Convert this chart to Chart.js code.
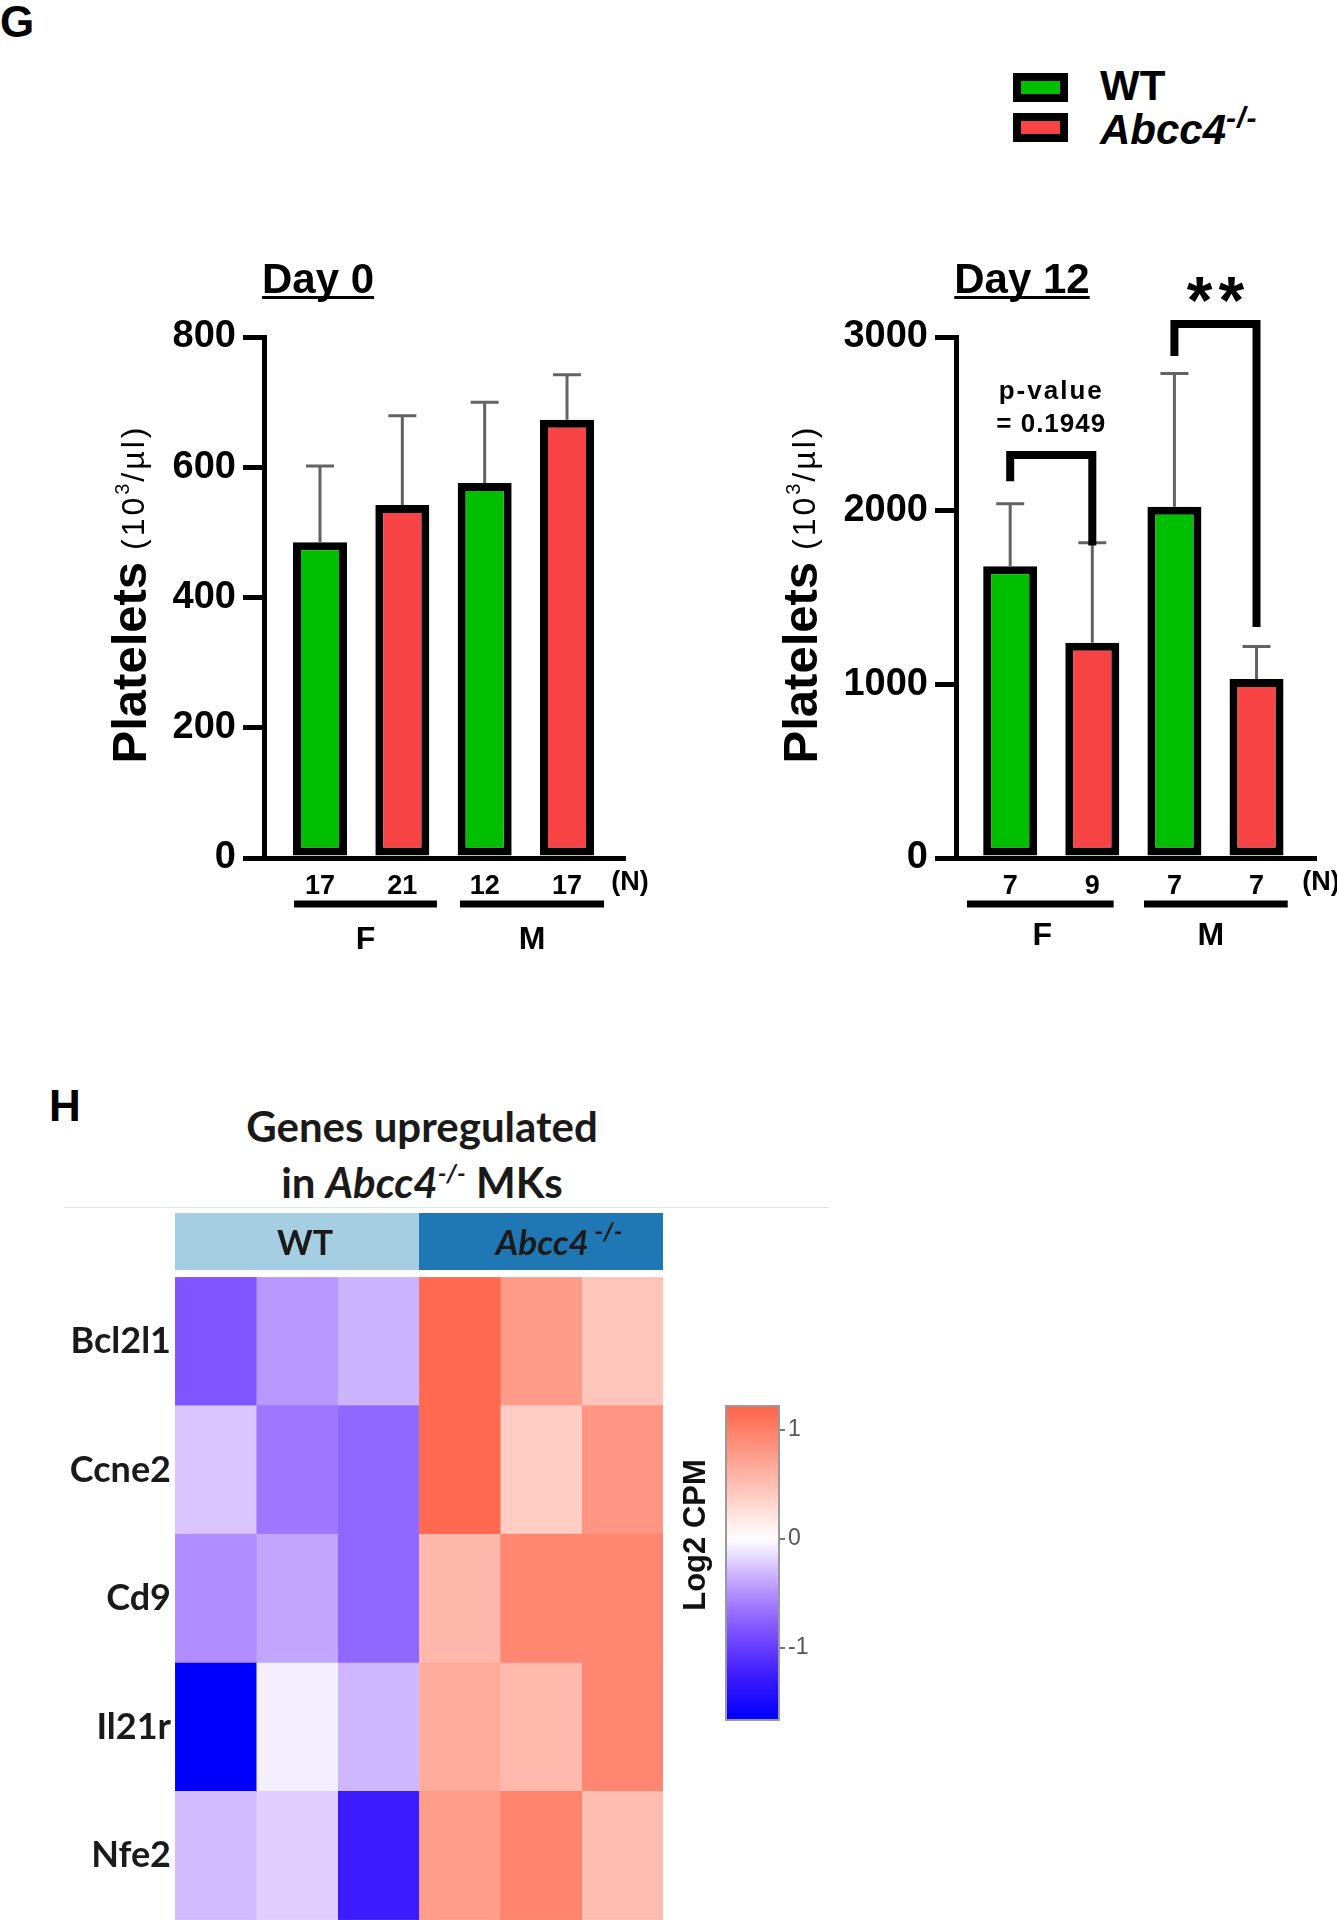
<!DOCTYPE html>
<html>
<head>
<meta charset="utf-8">
<script src="https://cdn.jsdelivr.net/npm/chart.js@4.4.1/dist/chart.umd.min.js"></script>
<style>
html,body{margin:0;padding:0;background:#fff;}
#page{position:relative;width:1337px;height:1920px;overflow:hidden;background:#fff;}
canvas{position:absolute;}
.t{position:absolute;line-height:1;white-space:nowrap;color:#000;}
.arial{font-family:'Liberation Sans',Arial,sans-serif;}
.lato{font-family:Lato,'Open Sans',sans-serif;}
</style>
</head>
<body>
<div id="page">
  <div class="t arial" style="left:0;top:0;font-weight:bold;font-size:44px;">G</div>

  <div style="position:absolute;left:1013px;top:73px;width:55px;height:29px;box-sizing:border-box;border:8px solid #000;background:#00BE00"></div>
  <div style="position:absolute;left:1013px;top:113px;width:55px;height:29px;box-sizing:border-box;border:8px solid #000;background:#F74343"></div>
  <div class="t arial" style="left:1100px;top:65px;font-weight:bold;font-size:42px;">WT</div>
  <div class="t arial" style="left:1100px;top:109px;font-weight:bold;font-size:42px;"><i>Abcc4</i><span style="font-size:30px;position:relative;top:-16px;font-style:italic;letter-spacing:1px;">-/-</span></div>

  <div class="t arial" style="left:49px;top:1084px;font-weight:bold;font-size:44px;">H</div>
  <div class="t lato" style="left:122px;top:1105px;width:600px;text-align:center;font-weight:bold;font-size:42px;color:#1a1a1a;">Genes upregulated</div>
  <div class="t lato" style="left:122px;top:1161px;width:600px;text-align:center;font-weight:bold;font-size:42px;color:#1a1a1a;">in <i>Abcc4</i><span style="font-size:25px;position:relative;top:-16px;font-style:italic;">-/-</span> MKs</div>
  <div style="position:absolute;left:64px;top:1207px;width:765px;height:1px;background:#dfe5ea;"></div>

  <canvas id="day0" width="680" height="770" style="left:0;top:230px;"></canvas>
  <canvas id="day12" width="657" height="770" style="left:680px;top:230px;"></canvas>
  <canvas id="heat" width="700" height="720" style="left:0;top:1200px;"></canvas>
  <canvas id="cbar" width="200" height="360" style="left:640px;top:1380px;"></canvas>
</div>
<script>
// ---------------- data ----------------
const groupLabels = ['F', 'M'];
const genotypes = ['WT', 'Abcc4-/-'];

const day0WT   = [485, 576];
const day0WTsd = [117, 124];
const day0KO   = [542, 673];
const day0KOsd = [137, 69];
const day0N    = [17, 21, 12, 17];
const day0Ticks = [0, 200, 400, 600, 800];

const day12WT   = [1680, 2022];
const day12WTsd = [360, 768];
const day12KO   = [1240, 1030];
const day12KOsd = [575, 188];
const day12N    = [7, 9, 7, 7];
const day12Ticks = [0, 1000, 2000, 3000];

const genes = ['Bcl2l1', 'Ccne2', 'Cd9', 'Il21r', 'Nfe2'];
const sampleGroups = ['WT', 'Abcc4'];
const bcl2l1 = [-0.83, -0.46, -0.33, 1.17, 0.78, 0.46];
const ccne2  = [-0.25, -0.63, -0.72, 1.17, 0.39, 0.83];
const cd9    = [-0.52, -0.40, -0.72, 0.55, 0.95, 0.95];
const il21r  = [-1.66, -0.07, -0.31, 0.65, 0.54, 0.95];
const nfe2   = [-0.29, -0.21, -1.26, 0.77, 0.96, 0.52];
const heatRows = [bcl2l1, ccne2, cd9, il21r, nfe2];
const cbarMin = -1.66, cbarMax = 1.22;
const cbarTicks = [-1, 0, 1];

// ---------------- styles ----------------
const FONT = "'Liberation Sans', Arial, sans-serif";
const LATO = "Lato, 'Open Sans', sans-serif";
const GREEN = '#00BE00', RED = '#F74343';

const negStops = [[0,[255,255,255]],[0.184,[208,184,255]],[0.376,[159,119,255]],[0.498,[128,85,255]],[0.761,[61,26,255]],[1,[0,0,255]]];
const posStops = [[0,[255,255,255]],[1,[255,99,71]]];
function interp(stops, t){
  t = Math.max(0, Math.min(1, t));
  for (let i = 1; i < stops.length; i++){
    if (t <= stops[i][0]){
      const [t0,c0] = stops[i-1], [t1,c1] = stops[i];
      const f = (t - t0) / (t1 - t0);
      return c0.map((c,k)=>Math.round(c + (c1[k]-c)*f));
    }
  }
  return stops[stops.length-1][1];
}
function colorFor(v){
  const c = v < 0 ? interp(negStops, v / cbarMin) : interp(posStops, v / cbarMax);
  return `rgb(${c[0]},${c[1]},${c[2]})`;
}

// ---------------- bar chart decorations ----------------
const decoPlugin = {
  id: 'dayDeco',
  afterDatasetsDraw(chart){
    const {ctx} = chart, xs = chart.scales.x, ys = chart.scales.y;
    ctx.save();
    ctx.strokeStyle = '#636363'; ctx.lineWidth = 3;
    chart.data.datasets.forEach(ds => ds.data.forEach((p, i) => {
      const x = xs.getPixelForValue(p.x);
      const y1 = ys.getPixelForValue(p.y);
      const y2 = ys.getPixelForValue(p.y + ds.sd[i]);
      ctx.beginPath();
      ctx.moveTo(x, y1); ctx.lineTo(x, y2);
      ctx.moveTo(x - 14, y2); ctx.lineTo(x + 14, y2);
      ctx.stroke();
    }));
    ctx.restore();
  },
  afterDraw(chart, args, o){
    const {ctx} = chart, xs = chart.scales.x, ys = chart.scales.y;
    ctx.save();
    ctx.fillStyle = '#000';
    // panel title
    ctx.font = `bold 42px ${FONT}`;
    ctx.textAlign = 'center'; ctx.textBaseline = 'alphabetic';
    ctx.fillText(o.title, o.titleX, o.titleY);
    const tw = ctx.measureText(o.title).width;
    ctx.fillRect(o.titleX - tw/2, o.titleY + 3, tw, 3);
    // y axis title
    ctx.save();
    ctx.translate(o.ytX, o.ytY);
    ctx.rotate(-Math.PI/2);
    ctx.textAlign = 'left'; ctx.textBaseline = 'alphabetic';
    const parts = [
      {t:'Platelets', f:`bold 49px ${FONT}`, dy:0, ls:'0px'},
      {t:' (10', f:`32px ${FONT}`, dy:-2, ls:'3px'},
      {t:'3', f:`20px ${FONT}`, dy:-17, ls:'2px'},
      {t:'/µl)', f:`32px ${FONT}`, dy:-2, ls:'3px'}
    ];
    let total = 0;
    parts.forEach(p => { ctx.font = p.f; ctx.letterSpacing = p.ls; p.w = ctx.measureText(p.t).width; total += p.w; });
    let cx = -total/2;
    parts.forEach(p => { ctx.font = p.f; ctx.letterSpacing = p.ls; ctx.fillText(p.t, cx, p.dy); cx += p.w; });
    ctx.letterSpacing = '0px';
    ctx.restore();
    // (N)
    ctx.font = `bold 27px ${FONT}`;
    ctx.textAlign = 'center'; ctx.textBaseline = 'middle';
    ctx.fillText('(N)', xs.right + 7, o.nY);
    // group lines
    o.groupLines.forEach((g, i) => {
      const x1 = xs.getPixelForValue(g[0]), x2 = xs.getPixelForValue(g[1]);
      ctx.fillRect(x1, o.gY - 3.5, x2 - x1, 7);
      ctx.font = `bold 32px ${FONT}`;
      ctx.fillText(groupLabels[i], (x1 + x2)/2 + (o.gLabDx ? o.gLabDx[i] : 0), o.gLabY);
    });
    // significance brackets
    (o.brackets || []).forEach(b => {
      const xl = xs.getPixelForValue(b.from), xr = xs.getPixelForValue(b.to);
      ctx.strokeStyle = '#000'; ctx.lineWidth = 8; ctx.lineJoin = 'miter'; ctx.lineCap = 'butt';
      ctx.beginPath();
      ctx.moveTo(xl, ys.getPixelForValue(b.leftEnd));
      ctx.lineTo(xl, ys.getPixelForValue(b.top));
      ctx.lineTo(xr, ys.getPixelForValue(b.top));
      ctx.lineTo(xr, ys.getPixelForValue(b.rightEnd));
      ctx.stroke();
      b.labels.forEach(l => {
        ctx.font = l.font;
        ctx.textAlign = 'center'; ctx.textBaseline = l.base;
        ctx.letterSpacing = l.ls || '0px';
        ctx.fillText(l.text, (xl + xr)/2 + (l.dx || 0), ys.getPixelForValue(l.y));
        ctx.letterSpacing = '0px';
      });
    });
    ctx.restore();
  }
};

function makeBarChart(id, o){
  return new Chart(document.getElementById(id), {
    type: 'bar',
    data: {
      datasets: [
        {label: genotypes[0], data: groupLabels.map((g, i) => ({x: 1 + 2*i, y: o.wt[i]})), sd: o.wtSd, backgroundColor: GREEN},
        {label: genotypes[1], data: groupLabels.map((g, i) => ({x: 2 + 2*i, y: o.ko[i]})), sd: o.koSd, backgroundColor: RED}
      ]
    },
    options: {
      responsive: false, animation: false, devicePixelRatio: 1,
      layout: {padding: {top: o.padTop, right: o.padRight, left: 0, bottom: 0}},
      datasets: {bar: {borderColor: '#000', borderWidth: 8, borderSkipped: false, barThickness: 54, grouped: false, inflateAmount: 0}},
      plugins: {legend: {display: false}, tooltip: {enabled: false}, dayDeco: o.deco},
      scales: {
        x: {
          type: 'linear', min: o.xMin, max: o.xMax, offset: false,
          afterFit: s => { s.height = o.xAxisH; },
          afterBuildTicks: s => { s.ticks = o.n.map((v, i) => ({value: i + 1})); },
          ticks: {callback: v => String(o.n[v - 1]), font: {family: FONT, weight: 'bold', size: 27}, color: '#000', padding: 12, maxRotation: 0, autoSkip: false},
          grid: {display: true, drawOnChartArea: false, drawTicks: false, lineWidth: 5, color: '#000', offset: false},
          border: {display: true, width: 5, color: '#000'}
        },
        y: {
          min: o.yTicks[0], max: o.yTicks[o.yTicks.length - 1],
          afterFit: s => { s.width = o.yAxisW; },
          afterBuildTicks: s => { s.ticks = o.yTicks.map(v => ({value: v})); },
          ticks: {callback: v => String(v), font: {family: FONT, weight: 'bold', size: 38}, color: '#000', padding: 7},
          grid: {drawOnChartArea: false, drawTicks: true, tickLength: 21, lineWidth: 5, color: '#000'},
          border: {display: true, width: 5, color: '#000'}
        }
      }
    },
    plugins: [decoPlugin]
  });
}

makeBarChart('day0', {
  wt: day0WT, wtSd: day0WTsd, ko: day0KO, koSd: day0KOsd, n: day0N, yTicks: day0Ticks,
  padTop: 107, padRight: 57, xAxisH: 142, yAxisW: 264, xMin: 0.32, xMax: 4.68,
  deco: {title: 'Day 0', titleX: 318, titleY: 63, ytX: 146, ytY: 364, nY: 653,
         groupLines: [[0.685, 2.42], [2.70, 4.45]], gY: 674, gLabY: 710, brackets: []}
});

makeBarChart('day12', {
  wt: day12WT, wtSd: day12WTsd, ko: day12KO, koSd: day12KOsd, n: day12N, yTicks: day12Ticks,
  padTop: 107, padRight: 23, xAxisH: 142, yAxisW: 276, xMin: 0.34, xMax: 4.70,
  deco: {title: 'Day 12', titleX: 342, titleY: 63, ytX: 137, ytY: 364, nY: 653,
         groupLines: [[0.474, 2.26], [2.63, 4.38]], gY: 674, gLabY: 706, gLabDx: [2, -5],
         brackets: [
           {from: 1, to: 2, top: 2320, leftEnd: 2170, rightEnd: 1800,
            labels: [{text: 'p-value', y: 2683, font: `bold 26px ${FONT}`, base: 'middle', ls: '2px'},
                     {text: '= 0.1949', y: 2493, font: `bold 26px ${FONT}`, base: 'middle', ls: '1px'}]},
           {from: 3, to: 4, top: 3075, leftEnd: 2890, rightEnd: 1330,
            labels: [{text: '**', y: 3082, font: `bold 66px ${FONT}`, base: 'alphabetic', ls: '6px', dx: 3}]}
         ]}
});

// ---------------- heatmap ----------------
const heatPlugin = {
  id: 'heatHeader',
  afterDraw(chart){
    const {ctx} = chart, xs = chart.scales.x;
    const x0 = xs.getPixelForValue(0), x3 = xs.getPixelForValue(3), x6 = xs.getPixelForValue(6);
    ctx.save();
    ctx.fillStyle = '#A6CEE3'; ctx.fillRect(x0, 13, x3 - x0, 57);
    ctx.fillStyle = '#1F78B4'; ctx.fillRect(x3, 13, x6 - x3, 57);
    ctx.fillStyle = '#1a1a1a';
    ctx.textBaseline = 'alphabetic';
    ctx.font = `bold 34px ${LATO}`; ctx.textAlign = 'center';
    ctx.fillText(sampleGroups[0], (x0 + x3)/2 + 8, 55);
    ctx.font = `italic bold 35px ${LATO}`;
    const w1 = ctx.measureText(sampleGroups[1]).width;
    ctx.font = `italic bold 25px ${LATO}`;
    const w2 = ctx.measureText(' -/-').width;
    const start = (x3 + x6)/2 + 18 - (w1 + w2)/2;
    ctx.textAlign = 'left';
    ctx.font = `italic bold 35px ${LATO}`;
    ctx.fillText(sampleGroups[1], start, 55);
    ctx.font = `italic bold 25px ${LATO}`;
    ctx.fillText(' -/-', start + w1, 40);
    ctx.restore();
  }
};

new Chart(document.getElementById('heat'), {
  type: 'bar',
  data: {
    labels: genes,
    datasets: [0,1,2,3,4,5].map(j => ({
      label: 'sample ' + (j + 1),
      data: genes.map(() => 1),
      backgroundColor: heatRows.map(r => colorFor(r[j])),
      borderColor: heatRows.map(r => colorFor(r[j])),
      borderWidth: 0.5
    }))
  },
  options: {
    indexAxis: 'y', responsive: false, animation: false, devicePixelRatio: 1,
    layout: {padding: {top: 77, right: 37, left: 0, bottom: 0}},
    datasets: {bar: {barPercentage: 1, categoryPercentage: 1, borderSkipped: false}},
    plugins: {legend: {display: false}, tooltip: {enabled: false}},
    scales: {
      x: {type: 'linear', stacked: true, min: 0, max: 6, display: false},
      y: {stacked: true,
          afterFit: s => { s.width = 175; s.paddingTop = 0; s.paddingBottom = 0; },
          ticks: {font: {family: LATO, weight: 'bold', size: 36}, color: '#1a1a1a', padding: -4},
          grid: {display: false}, border: {display: false}}
    }
  },
  plugins: [heatPlugin]
});

// ---------------- colour bar ----------------
const cbarPlugin = {
  id: 'cbarFill',
  beforeDatasetsDraw(chart){
    const {ctx, chartArea: a} = chart;
    const g = ctx.createLinearGradient(0, a.bottom, 0, a.top);
    for (let i = 0; i <= 60; i++){
      const v = cbarMin + (cbarMax - cbarMin) * i / 60;
      g.addColorStop(i / 60, colorFor(v));
    }
    ctx.save();
    ctx.fillStyle = g;
    ctx.fillRect(a.left, a.top, a.right - a.left, a.bottom - a.top);
    ctx.strokeStyle = '#9a9a9a'; ctx.lineWidth = 2;
    ctx.strokeRect(a.left, a.top, a.right - a.left, a.bottom - a.top);
    ctx.restore();
  },
  afterDraw(chart){
    const {ctx} = chart;
    ctx.save();
    ctx.translate(56, 155);
    ctx.rotate(-Math.PI/2);
    ctx.font = `bold 31px ${FONT}`; ctx.fillStyle = '#111';
    ctx.textAlign = 'center'; ctx.textBaseline = 'middle';
    ctx.fillText('Log2 CPM', 0, 0);
    ctx.restore();
  }
};

new Chart(document.getElementById('cbar'), {
  type: 'scatter',
  data: {datasets: [{data: []}]},
  options: {
    responsive: false, animation: false, devicePixelRatio: 1,
    layout: {padding: {top: 26, left: 86, right: 0, bottom: 20}},
    plugins: {legend: {display: false}, tooltip: {enabled: false}},
    scales: {
      x: {display: false, min: 0, max: 1},
      y: {position: 'right', min: cbarMin, max: cbarMax,
          afterFit: s => { s.width = 61; },
          afterBuildTicks: s => { s.ticks = cbarTicks.map(v => ({value: v})); },
          ticks: {font: {family: FONT, size: 23}, color: '#555', padding: 3},
          grid: {drawOnChartArea: false, drawTicks: true, tickLength: 6, lineWidth: 2, color: '#777'},
          border: {display: false}}
    }
  },
  plugins: [cbarPlugin]
});
</script>
</body>
</html>
